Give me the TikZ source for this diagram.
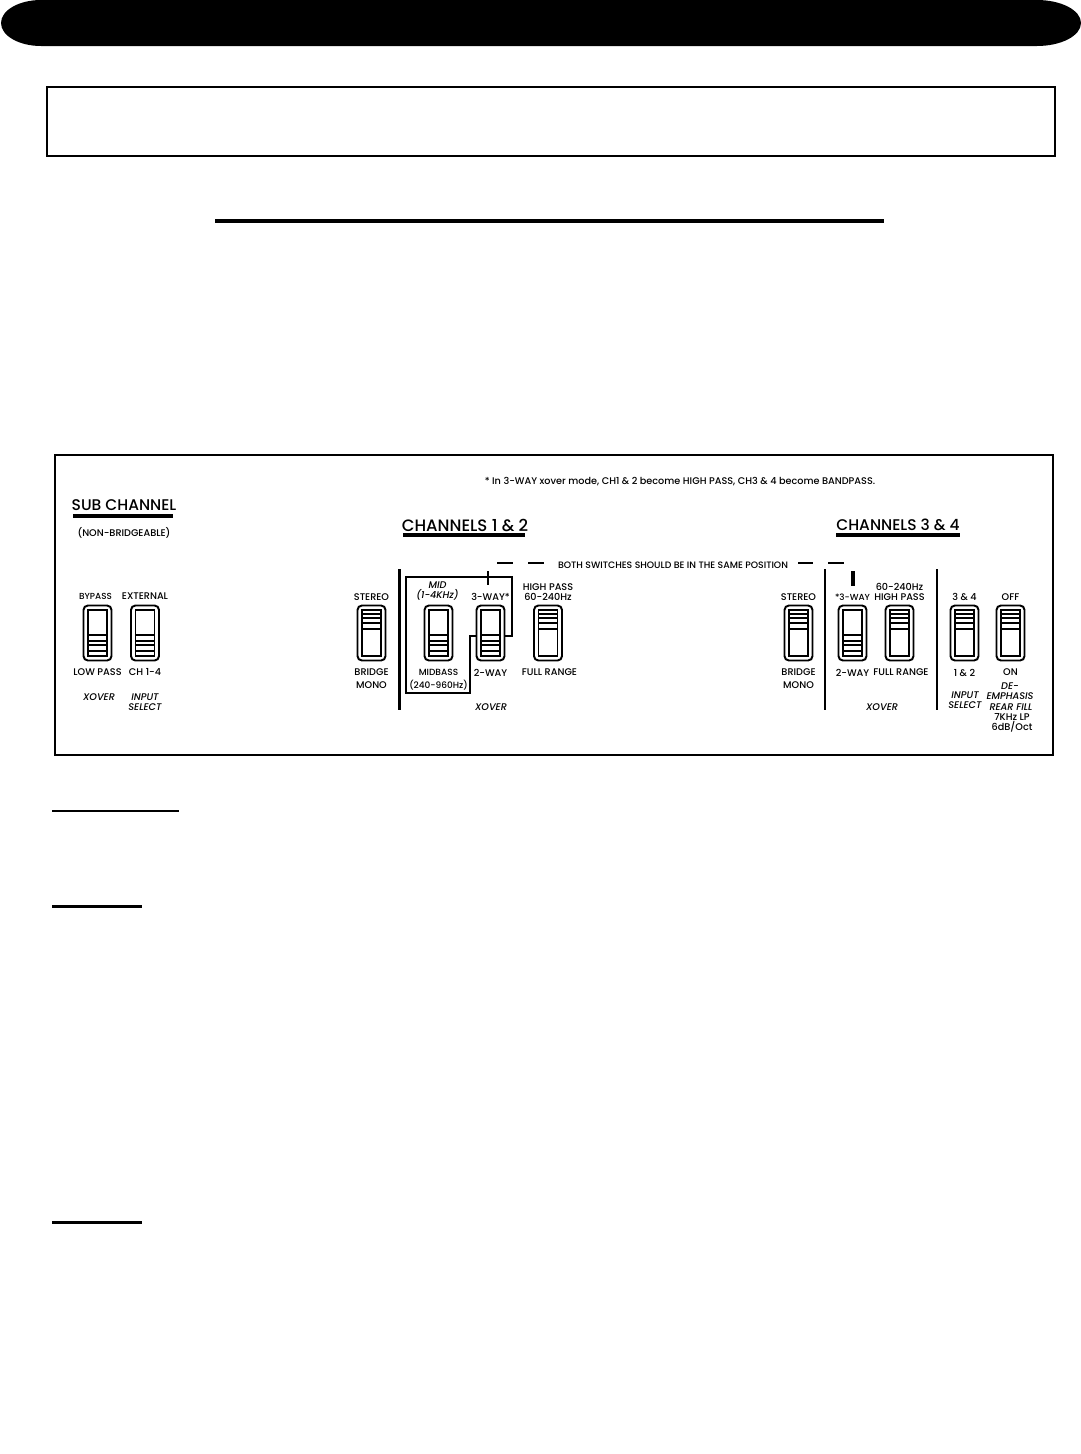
\documentclass[tikz,border=0pt]{standalone}
\usepackage{fontspec}
\setmainfont[UprightFont=* Medium,ItalicFont=* Medium Italic]{Poppins}
\usetikzlibrary{positioning}

\begin{document}
\begin{tikzpicture}[
  x=0.02cm, y=-0.02cm,
  node distance=0.1cm,
  swbox/.style={rectangle, rounded corners=2.5pt, draw=black, line width=1.1pt,
                fill=white, minimum width=0.56cm, minimum height=1.1cm, inner sep=0pt},
  swslot/.style={rectangle, draw=black, line width=1pt,
                 minimum width=0.38cm, minimum height=0.92cm, inner sep=0pt},
  lbl/.style={inner sep=0pt, align=center, font=\fontsize{5.5}{5.8}\selectfont},
  lblwide/.style={lbl, font=\fontsize{5.5}{7.4}\selectfont},
  ilbl/.style={lbl, font=\fontsize{5.5}{5.6}\selectfont\itshape},
  chan/.style={inner sep=0pt, font=\fontsize{8.8}{10}\selectfont},
  heavy/.style={line width=1.5pt, color=black},
  rulethick/.style={line width=2.2pt, color=black}
]
\useasboundingbox (0,0) rectangle (1081,1454);

%% page furniture
\fill[black] (41,0) -- (1037,0) arc[start angle=90, end angle=-90, x radius=44, y radius=-23]
  -- (41,46) arc[start angle=270, end angle=90, x radius=40, y radius=-23] -- cycle;
\draw[line width=1.15pt] (47,87) rectangle (1055,156);
\draw[rulethick] (215,221) -- (884,221);
\draw[line width=1.3pt] (52,811) -- (179,811);
\draw[line width=1.7pt] (52,906) -- (142,906);
\draw[line width=1.7pt] (52,1222) -- (142,1222);

%% panel
\draw[line width=1.1pt] (55,455) rectangle (1053,755);
\node[lbl] (note) at (680,482) {* In 3-WAY xover mode, CH1 \& 2 become HIGH PASS, CH3 \& 4 become BANDPASS.};

\node[chan] (subhead) at (124,505) {SUB CHANNEL};
\node[lbl, below=0.33cm of subhead] (subnote) {(NON-BRIDGEABLE)};
\node[chan, font=\fontsize{9.4}{10}\selectfont] (headA) at (465,525) {CHANNELS 1 \& 2};
\node[chan] (headB) at (898,525) {CHANNELS 3 \& 4};
\draw[rulethick] (73,516) -- (173,516);
\draw[rulethick] (403,535) -- (525,535);
\draw[rulethick] (836,535) -- (960,535);

\node[lbl, font=\fontsize{5.3}{6}\selectfont] (both) at (673,565) {BOTH SWITCHES SHOULD BE IN THE SAME POSITION};

%% dashes
\draw[heavy] (497,563) -- (513,563);
\draw[heavy] (528,563) -- (544,563);
\draw[heavy] (798,563) -- (813,563);
\draw[heavy] (828,563) -- (844,563);
\draw[heavy] (488,571) -- (488,585);
\draw[rulethick] (853,571) -- (853,586);

%% dividers
\draw[heavy] (399.5,569) -- (399.5,710);
\draw[heavy] (825,569) -- (825,710);
\draw[heavy] (937,569) -- (937,710);

%% outline round the two midrange switches
\draw[heavy] (406,577) -- (512,577) -- (512,636) -- (470,636) -- (470,693) -- (406,693) -- cycle;

%% switches, slider up
\foreach \nm/\px in {swmonoA/371.5, swrange/548, swmonoB/798.5, swrangeB/899.5, swinput/964.5, swdeemph/1010.5} {
  \node[swbox] (\nm) at (\px,633) {};
  \node[swslot] (\nm slot) at (\nm) {};
  \foreach \yy in {614,618,623,629}
    \draw[line width=0.8pt] (\px-9,\yy) -- (\px+9,\yy);
}
%% switches, slider down
\foreach \nm/\px in {swxover/97.5, swsource/145, swmid/438.5, swwayA/490.5, swwayB/852.5} {
  \node[swbox] (\nm) at (\px,633) {};
  \node[swslot] (\nm slot) at (\nm) {};
  \foreach \yy in {635,641,645,651}
    \draw[line width=0.8pt] (\px-9,\yy) -- (\px+9,\yy);
}

%% labels
\node[lbl, font=\fontsize{5}{6}\selectfont, above=0.1cm of swxover, xshift=-0.04cm] (t1) {BYPASS};
\node[lbl, above=0.1cm of swsource] (t2) {EXTERNAL};
\node[lbl, above=0.07cm of swmonoA] (t3) {STEREO};
\node[ilbl, above=0.07cm of swmid, xshift=-0.02cm, font=\fontsize{5.5}{5.8}\selectfont\itshape] (t4) {MID\\(1-4KHz)};
\node[lbl, above=0.07cm of swwayA] (t5) {3-WAY*};
\node[lbl, above=0.07cm of swrange] (t6) {HIGH PASS\\60-240Hz};
\node[lbl, above=0.07cm of swmonoB] (t7) {STEREO};
\node[lbl, font=\fontsize{5}{6}\selectfont, above=0.07cm of swwayB] (t8) {*3-WAY};
\node[lbl, above=0.07cm of swrangeB] (t9) {60-240Hz\\HIGH PASS};
\node[lbl, above=0.07cm of swinput] (t10) {3 \& 4};
\node[lbl, above=0.07cm of swdeemph] (t11) {OFF};

\node[lbl, below=0.14cm of swxover] (b1) {LOW PASS};
\node[lbl, below=0.14cm of swsource] (b2) {CH 1-4};
\node[lblwide, below=0.14cm of swmonoA] (b3) {BRIDGE\\MONO};
\node[lblwide, below=0.14cm of swmid, font=\fontsize{5.1}{7.4}\selectfont] (b4) {MIDBASS\\(240-960Hz)};
\node[lbl, below=0.14cm of swwayA] (b5) {2-WAY};
\node[lbl, below=0.14cm of swrange, xshift=0.03cm] (b6) {FULL RANGE};
\node[lblwide, below=0.14cm of swmonoB] (b7) {BRIDGE\\MONO};
\node[lbl, below=0.14cm of swwayB] (b8) {2-WAY};
\node[lbl, below=0.14cm of swrangeB, xshift=0.03cm] (b9) {FULL RANGE};
\node[lbl, below=0.14cm of swinput] (b10) {1 \& 2};
\node[lbl, below=0.14cm of swdeemph] (b11) {ON};

\node[ilbl] (i1) at (99,697) {XOVER};
\node[ilbl] (i2) at (145,702) {INPUT\\SELECT};
\node[ilbl] (i3) at (491,707) {XOVER};
\node[ilbl] (i4) at (882,707) {XOVER};
\node[ilbl] (i5) at (965,700) {INPUT\\SELECT};
\node[ilbl] (i6) at (1010,691) {DE-\\EMPHASIS};
\node[ilbl] (i7) at (1011,707) {REAR FILL};
\node[lbl] (i8) at (1012,723) {7KHz LP\\6dB/Oct};
\end{tikzpicture}
\end{document}
